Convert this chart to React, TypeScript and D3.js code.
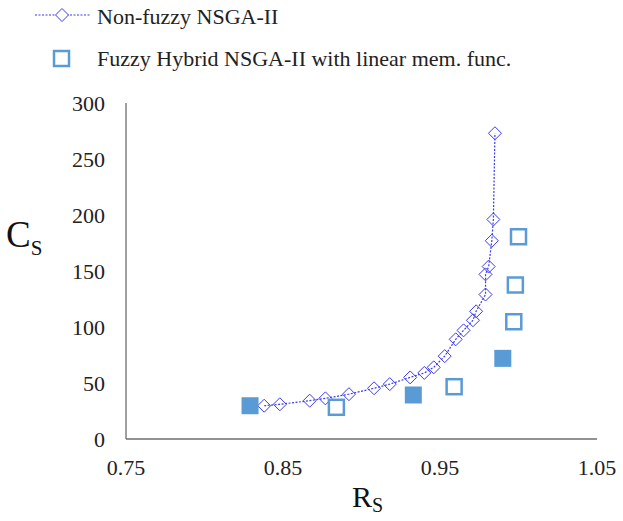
import React from "react";
import * as d3 from "d3";

const nonFuzzyRs = [0.838, 0.848, 0.867, 0.877, 0.892, 0.908, 0.918, 0.931, 0.940, 0.946, 0.953, 0.960, 0.965, 0.971, 0.973, 0.979, 0.979, 0.981, 0.983, 0.984, 0.985];
const nonFuzzyCs = [29.7, 31, 34.2, 36.3, 40, 45.3, 49, 55, 59, 64, 74, 89, 97, 106, 114, 129, 147, 154, 177, 196, 273];

const fuzzyRs = [0.829, 0.884, 0.933, 0.959, 0.990, 0.997, 0.998, 1.000];
const fuzzyCs = [29.7, 28.3, 39.3, 46.7, 72, 104.7, 137.5, 180.6];
const fuzzyFilled = [true, false, true, false, true, false, false, false];

const xTicks = [0.75, 0.85, 0.95, 1.05];
const yTicks = [0, 50, 100, 150, 200, 250, 300];

const seriesNames = ["Non-fuzzy NSGA-II", "Fuzzy Hybrid NSGA-II with linear mem. func."];

const FONT = "'Liberation Serif', 'Times New Roman', serif";
const LINE_COLOR = "#3a3af0";
const SQ_COLOR = "#5b9bd5";

export default function App() {
  const W = 623, H = 521;
  const x = d3.scaleLinear().domain([0.75, 1.05]).range([126, 597]);
  const y = d3.scaleLinear().domain([0, 300]).range([439, 103]);
  const pts = nonFuzzyRs.map((r, i) => [r, nonFuzzyCs[i]] as [number, number]);
  const line = d3.line<[number, number]>().x(d => x(d[0])).y(d => y(d[1]));
  const diamond = (cx: number, cy: number, r: number) =>
    `M${cx},${cy - r}L${cx + r},${cy}L${cx},${cy + r}L${cx - r},${cy}Z`;

  return (
    <svg width={W} height={H} style={{ position: "absolute", left: 0, top: 0, background: "#fff" }} fontFamily={FONT}>
      {/* axes */}
      <line x1={x(0.75)} x2={x(0.75)} y1={y(300)} y2={y(0)} stroke="#6e6e6e" strokeWidth={1.3} />
      <line x1={x(0.75)} x2={x(1.05)} y1={y(0)} y2={y(0)} stroke="#6e6e6e" strokeWidth={1.3} />
      {yTicks.map(t => (
        <text key={t} x={105} y={y(t)} dy="0.35em" textAnchor="end" fontSize={22} fill="#222">{t}</text>
      ))}
      {xTicks.map(t => (
        <text key={t} x={x(t)} y={475} textAnchor="middle" fontSize={22} fill="#222">{t.toFixed(2)}</text>
      ))}
      {/* axis titles */}
      <text x={6} y={247} fontSize={37} fill="#111">C<tspan fontSize={21} dy={8}>S</tspan></text>
      <text x={352} y={507} fontSize={30} fill="#111">R<tspan fontSize={20} dy={5}>S</tspan></text>

      {/* non-fuzzy line */}
      <path d={line(pts) || ""} fill="none" stroke={LINE_COLOR} strokeWidth={1.2} strokeDasharray="2,1.5" />
      {pts.map((p, i) => (
        <path key={i} d={diamond(x(p[0]), y(p[1]), 6.5)} fill="none" stroke={LINE_COLOR} strokeWidth={1} />
      ))}
      {/* fuzzy squares */}
      {fuzzyRs.map((r, i) => fuzzyFilled[i] ? (
        <rect key={i} x={x(r) - 8.5} y={y(fuzzyCs[i]) - 8.5} width={17} height={17} fill={SQ_COLOR} />
      ) : (
        <rect key={i} x={x(r) - 7.5} y={y(fuzzyCs[i]) - 7.5} width={15} height={15} fill="#fff" stroke={SQ_COLOR} strokeWidth={2.5} />
      ))}

      {/* legend */}
      <line x1={35} x2={90} y1={15} y2={15} stroke={LINE_COLOR} strokeWidth={1.2} strokeDasharray="2,1.5" />
      <path d={diamond(62, 15, 6.5)} fill="#fff" stroke={LINE_COLOR} strokeWidth={1} />
      <text x={97} y={24} fontSize={22} fill="#222">{seriesNames[0]}</text>
      <rect x={54} y={51} width={15} height={15} fill="#fff" stroke={SQ_COLOR} strokeWidth={2.5} />
      <text x={97} y={66} fontSize={22} fill="#222">{seriesNames[1]}</text>
    </svg>
  );
}
